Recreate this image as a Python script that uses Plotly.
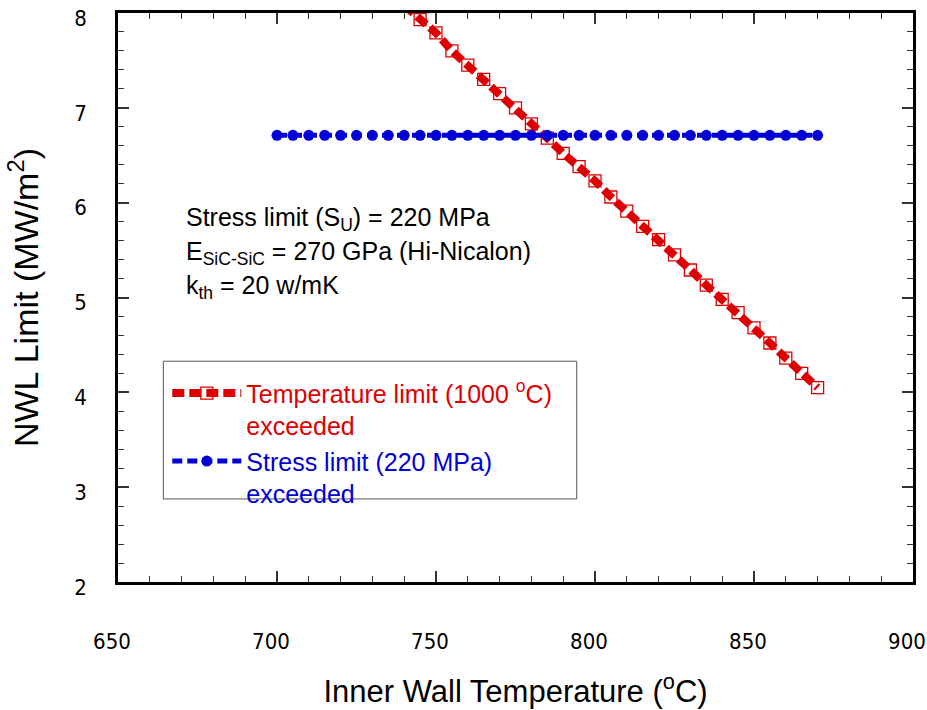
import plotly.graph_objects as go

# Temperature-limit series (red)
temp_x = [740, 745, 750, 755, 760, 765, 770, 775, 780, 785, 790, 795, 800, 805, 810,
          815, 820, 825, 830, 835, 840, 845, 850, 855, 860, 865, 870]
temp_y = [8.08, 7.93, 7.79, 7.60, 7.45, 7.30, 7.15, 7.00, 6.83, 6.68, 6.52, 6.38, 6.23,
          6.06, 5.91, 5.75, 5.61, 5.45, 5.29, 5.13, 4.98, 4.84, 4.68, 4.52, 4.36, 4.20, 4.05]

# Stress-limit series (blue)
stress_x = [700, 705, 710, 715, 720, 725, 730, 735, 740, 745, 750, 755, 760, 765, 770,
            775, 780, 785, 790, 795, 800, 805, 810, 815, 820, 825, 830, 835, 840, 845,
            850, 855, 860, 865, 870]
stress_y = [6.71] * len(stress_x)

x_ticks = [650, 700, 750, 800, 850, 900]
y_ticks = [2, 3, 4, 5, 6, 7, 8]

RED = "rgb(222,0,0)"
BLUE = "rgb(0,0,215)"
FONT = "Liberation Sans, Arial, sans-serif"
NARROW = "Liberation Sans Narrow, DejaVu Sans Condensed, Arial Narrow, sans-serif"

fig = go.Figure()
fig.add_trace(go.Scatter(
    x=temp_x, y=temp_y, mode="lines+markers",
    name=f'<span style="color:{RED}">Temperature limit (1000 <sup>o</sup>C)<br>exceeded</span>',
    line=dict(color=RED, width=8, dash="12px,5px"),
    marker=dict(symbol="square-open", size=12, color=RED, line=dict(width=1.3, color=RED)),
))
fig.add_trace(go.Scatter(
    x=stress_x, y=stress_y, mode="lines+markers",
    name=f'<span style="color:{BLUE}">Stress limit (220 MPa)<br>exceeded</span>',
    line=dict(color=BLUE, width=5, dash="10px,5px"),
    marker=dict(symbol="circle", size=11, color=BLUE),
))

axis_common = dict(
    showgrid=False, zeroline=False, showline=True, linecolor="black", linewidth=2.5,
    mirror="allticks", ticks="inside", ticklen=11, tickwidth=1.5, tickcolor="#333",
    tickfont=dict(family=NARROW, size=22, color="black"),
    automargin=False, ticklabeloverflow="allow",
)

fig.update_xaxes(
    range=[650, 900], tickvals=x_ticks, ticktext=[str(v) for v in x_ticks],
    minor=dict(dtick=10, ticks="inside", ticklen=6, tickwidth=1.2, tickcolor="#333"),
    title=dict(text="Inner Wall Temperature (<sup>o</sup>C)",
               font=dict(family=FONT, size=31, color="black"), standoff=28),
    ticklabelstandoff=38, ticklabelshift=-6,
    **axis_common,
)
fig.update_yaxes(
    range=[2, 8], tickvals=y_ticks, ticktext=[str(v) for v in y_ticks],
    minor=dict(dtick=0.2, ticks="inside", ticklen=6, tickwidth=1.2, tickcolor="#333"),
    title=dict(text="NWL Limit (MW/m<sup>2</sup>)",
               font=dict(family=FONT, size=34, color="black"), standoff=26),
    ticklabelstandoff=24, ticklabelshift=5,
    **axis_common,
)

# legend box
fig.add_shape(type="rect", xref="paper", yref="paper",
              x0=0.057, x1=0.577, y0=0.146, y1=0.388,
              line=dict(color="#555", width=1), fillcolor="white", layer="below")

ann_font = dict(family=FONT, size=25, color="black")
for txt, yy in [("Stress limit (S<sub>U</sub>) = 220 MPa", 0.638),
                ("E<sub>SiC-SiC</sub> = 270 GPa (Hi-Nicalon)", 0.579),
                ("k<sub>th</sub> = 20 w/mK", 0.519)]:
    fig.add_annotation(x=0.083, y=yy, xref="paper", yref="paper", text=txt,
                       showarrow=False, xanchor="left", yanchor="middle", font=ann_font)

fig.update_layout(
    width=927, height=710,
    margin=dict(l=118, r=14, t=13, b=128),
    plot_bgcolor="white", paper_bgcolor="white",
    font=dict(family=FONT, color="black"),
    legend=dict(x=0.062, y=0.372, xanchor="left", yanchor="top",
                bgcolor="rgba(0,0,0,0)", borderwidth=0, valign="top",
                itemwidth=69,
                font=dict(family=FONT, size=25), tracegroupgap=0),
)

fig.write_html("out.html")
